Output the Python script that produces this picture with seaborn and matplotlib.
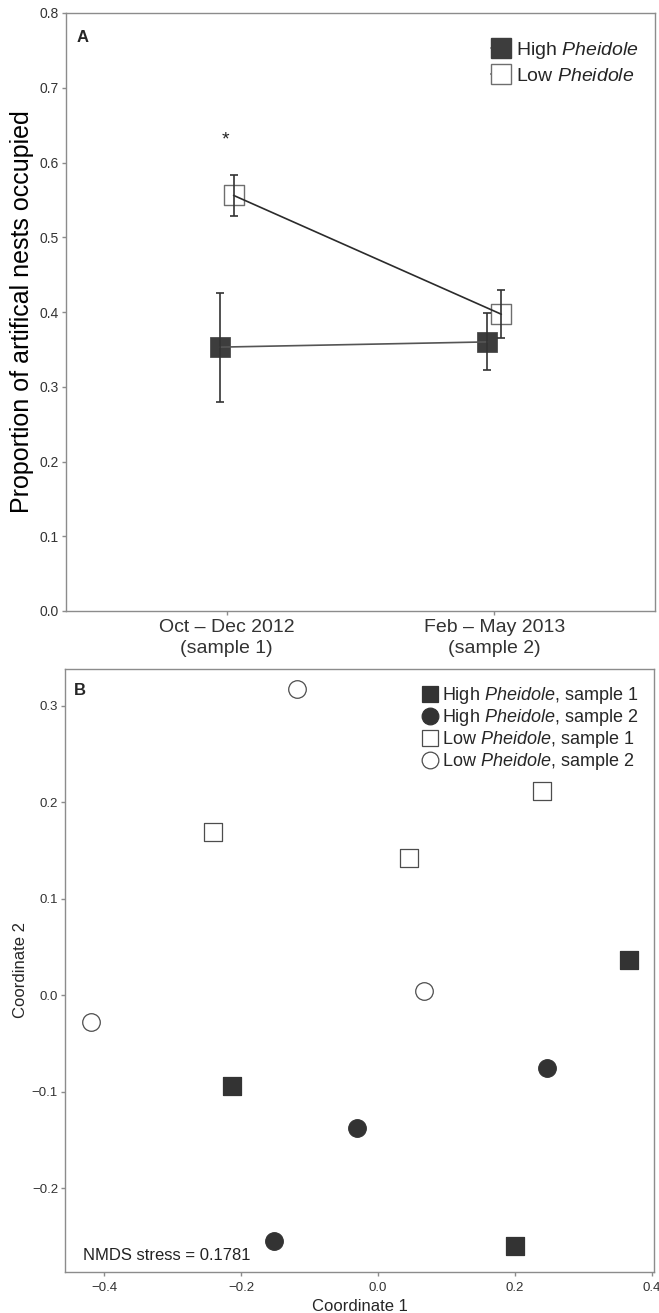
import numpy as np
import pandas as pd
import matplotlib
matplotlib.use("Agg")
import matplotlib.pyplot as plt
from matplotlib.lines import Line2D
import seaborn as sns

# ---------------- data ----------------
periods = ["Oct \u2013 Dec 2012\n(sample 1)", "Feb \u2013 May 2013\n(sample 2)"]
high_mean = [0.353, 0.360]
high_se = [0.073, 0.038]
low_mean = [0.556, 0.397]
low_se = [0.027, 0.032]
y_ticks_a = [0.0, 0.1, 0.2, 0.3, 0.4, 0.5, 0.6, 0.7, 0.8]

high1_x = [0.367, -0.213, 0.200]
high1_y = [0.036, -0.094, -0.260]
high2_x = [-0.031, 0.247, -0.152]
high2_y = [-0.138, -0.076, -0.255]
low1_x = [-0.241, 0.045, 0.240]
low1_y = [0.169, 0.142, 0.212]
low2_x = [-0.419, -0.118, 0.067]
low2_y = [-0.028, 0.317, 0.004]
x_ticks_b = [-0.4, -0.2, 0.0, 0.2, 0.4]
y_ticks_b = [-0.2, -0.1, 0.0, 0.1, 0.2, 0.3]
stress = 0.1781

# ---------------- style ----------------
sns.set_theme(style="white")
plt.rcParams["font.family"] = ["Liberation Sans", "DejaVu Sans"]
plt.rcParams["mathtext.fontset"] = "custom"
plt.rcParams["mathtext.rm"] = "Liberation Sans"
plt.rcParams["mathtext.it"] = "Liberation Sans:italic"
plt.rcParams["mathtext.bf"] = "Liberation Sans:bold"
plt.rcParams["axes.edgecolor"] = "#8c8c8c"
plt.rcParams["axes.linewidth"] = 1.0
plt.rcParams["xtick.color"] = "#8c8c8c"
plt.rcParams["ytick.color"] = "#8c8c8c"
plt.rcParams["xtick.labelcolor"] = "#333333"
plt.rcParams["ytick.labelcolor"] = "#333333"

W, H = 659, 1313
fig = plt.figure(figsize=(W / 100, H / 100), dpi=100)

def axrect(l, t, r, b):
    return [l / W, (H - b) / H, (r - l) / W, (b - t) / H]

# ---------------- panel A ----------------
axA = fig.add_axes(axrect(66, 13, 655, 611))
dodge = 0.026
pos = np.arange(1, len(periods) + 1)
dfA = pd.DataFrame({
    "x": np.concatenate([pos - dodge, pos + dodge]),
    "y": high_mean + low_mean,
    "se": high_se + low_se,
    "grp": ["High"] * len(periods) + ["Low"] * len(periods),
})
hi = dfA[dfA.grp == "High"]
lo = dfA[dfA.grp == "Low"]

sns.scatterplot(data=hi, x="x", y="y", marker="s", s=215, color="#3d3d3d",
                edgecolor="#3d3d3d", linewidth=0.5, ax=axA, zorder=3, legend=False)
sns.scatterplot(data=lo, x="x", y="y", marker="s", s=215, color="white",
                edgecolor="#6e6e6e", linewidth=1.0, ax=axA, zorder=3, legend=False)
sns.lineplot(data=hi, x="x", y="y", color="#555555", lw=1.2, ax=axA, zorder=4,
             legend=False, estimator=None)
sns.lineplot(data=lo, x="x", y="y", color="#2b2b2b", lw=1.2, ax=axA, zorder=4,
             legend=False, estimator=None)
axA.errorbar(hi.x, hi.y, yerr=hi.se, fmt="none", ecolor="#333333", elinewidth=1.2,
             capsize=3, capthick=1.2, zorder=5)
axA.errorbar(lo.x, lo.y, yerr=lo.se, fmt="none", ecolor="#333333", elinewidth=1.2,
             capsize=3, capthick=1.2, zorder=5)

axA.set_xlim(0.4, 2.6)
axA.set_ylim(0, 0.8)
axA.set_xticks(pos)
axA.set_xticklabels(periods, fontsize=14, linespacing=1.3)
axA.set_yticks(y_ticks_a)
axA.set_yticklabels([f"{v:.1f}" for v in y_ticks_a], fontsize=10)
axA.tick_params(axis="both", length=3, width=1, pad=2, bottom=True, left=True)
axA.tick_params(axis="x", pad=3)
axA.set_xlabel("")
axA.set_ylabel("Proportion of artifical nests occupied", fontsize=18, color="black",
               labelpad=4)
axA.text(0.018, 0.971, "A", transform=axA.transAxes, fontsize=12, fontweight="bold",
         va="top", ha="left")
axA.text(pos[0] - 0.005, 0.63, "*", fontsize=14, ha="center", va="center",
         color="#222222")

hA = [
    Line2D([], [], color="#555555", lw=1.2, marker="s", markersize=14.5,
           markerfacecolor="#3d3d3d", markeredgecolor="#3d3d3d"),
    Line2D([], [], color="#2b2b2b", lw=1.2, marker="s", markersize=14.5,
           markerfacecolor="white", markeredgecolor="#6e6e6e"),
]
axA.legend(hA, ["High $\\it{Pheidole}$", "Low $\\it{Pheidole}$"], loc="upper right",
           bbox_to_anchor=(1.019, 1.0),
           frameon=False, fontsize=14, handlelength=1.0, handletextpad=0.3,
           labelspacing=0.3, borderaxespad=1.0)

# ---------------- panel B ----------------
axB = fig.add_axes(axrect(65, 669, 654, 1272))
groups = [
    (high1_x, high1_y, "s", 165, "#333333", "#333333", "High $\\it{Pheidole}$, sample 1"),
    (high2_x, high2_y, "o", 160, "#333333", "#333333", "High $\\it{Pheidole}$, sample 2"),
    (low1_x, low1_y, "s", 165, "white", "#4d4d4d", "Low $\\it{Pheidole}$, sample 1"),
    (low2_x, low2_y, "o", 160, "white", "#4d4d4d", "Low $\\it{Pheidole}$, sample 2"),
]
hB = []
for gx, gy, mk, sz, fc, ec, lab in groups:
    d = pd.DataFrame({"x": gx, "y": gy})
    sns.scatterplot(data=d, x="x", y="y", marker=mk, s=sz, color=fc, edgecolor=ec,
                    linewidth=0.9, ax=axB, legend=False, zorder=3)
    hB.append(Line2D([], [], ls="none", marker=mk, markersize=12,
                     markerfacecolor=fc, markeredgecolor=ec, markeredgewidth=0.9))

axB.set_xlim(-0.457, 0.403)
axB.set_ylim(-0.287, 0.338)
axB.set_xticks(x_ticks_b)
axB.set_xticklabels([f"{v:.1f}".replace("-", "\u2212") for v in x_ticks_b], fontsize=9.5)
axB.set_yticks(y_ticks_b)
axB.set_yticklabels([f"{v:.1f}".replace("-", "\u2212") for v in y_ticks_b], fontsize=9.5)
axB.tick_params(axis="both", length=3, width=1, pad=2, bottom=True, left=True)
axB.tick_params(axis="x", pad=4)
axB.set_xlabel("Coordinate 1", fontsize=12, labelpad=4)
axB.set_ylabel("Coordinate 2", fontsize=12, labelpad=3)
axB.text(0.015, 0.977, "B", transform=axB.transAxes, fontsize=12, fontweight="bold",
         va="top", ha="left")
axB.text(0.03, 0.027, f"NMDS stress = {stress}", transform=axB.transAxes, fontsize=12,
         va="center", ha="left", color="#222222")
axB.legend(hB, [g[6] for g in groups], loc="upper right", frameon=False, fontsize=13,
           handlelength=0.9, handletextpad=0.2, labelspacing=0.05, borderaxespad=0.5)

fig.savefig("out.png", dpi=100)
